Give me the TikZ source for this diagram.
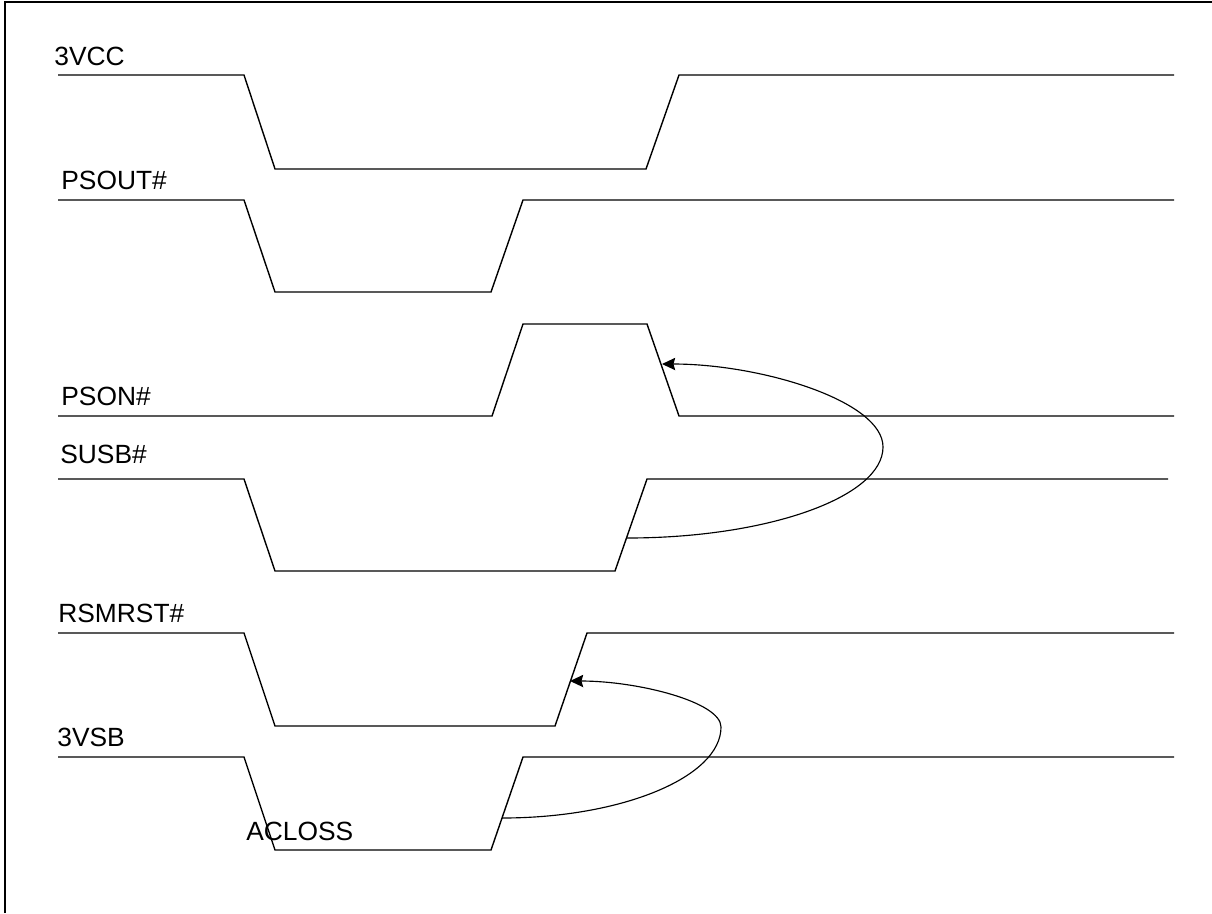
\documentclass[tikz,border=0pt]{standalone}
\usepackage{fontspec}
\setmainfont{Liberation Sans}
\usetikzlibrary{arrows.meta}
\begin{document}
\begin{tikzpicture}[x=0.02cm,y=-0.02cm,
  sig/.style={line width=0.8pt,line join=miter},
  lbl/.style={anchor=base west,inner sep=0pt,font=\fontsize{15}{17}\selectfont},
  link/.style={line width=0.65pt,-{Stealth[length=7.5pt,width=7pt,inset=1pt]}},
  frame/.style={line width=1.2pt}]
\useasboundingbox (0,0) rectangle (1212,913);
\draw[frame] (5,913) -- (5,2) -- (1212,2);
% labels
\node[lbl] (l3vcc)  at (54,65)  {3VCC};
\node[lbl] (lpsout) at (61,189) {PSOUT\#};
\node[lbl] (lpson)  at (61,405) {PSON\#};
\node[lbl] (lsusb)  at (60,463) {SUSB\#};
\node[lbl] (lrsm)   at (58,622) {RSMRST\#};
\node[lbl] (l3vsb)  at (57,746) {3VSB};
\node[lbl] (lacl)   at (246,840) {ACLOSS};
% waveforms
\draw[sig] (58,75) -- (244,75) -- (275,169) -- (646,169) -- (679,75) -- (1174,75);
\draw[sig] (58,200) -- (244,200) -- (275,292) -- (491,292) -- (523,200) -- (1174,200);
\draw[sig] (58,416) -- (492,416) -- (523,324) -- (647,324) -- (679,416) -- (1174,416);
\draw[sig] (58,479) -- (244,479) -- (275,571) -- (615,571) -- (647,479) -- (1168,479);
\draw[sig] (58,633) -- (244,633) -- (275,726) -- (555,726) -- (587,633) -- (1174,633);
\draw[sig] (58,757) -- (244,757) -- (275,850) -- (491,850) -- (523,757) -- (1174,757);
% connector anchors on the edges
\coordinate (c1s) at (627,538);
\coordinate (c1a) at (883,447);
\coordinate (c1e) at (662,364);
\coordinate (c2s) at (502,818);
\coordinate (c2a) at (721,727);
\coordinate (c2e) at (570,681);
% connectors
\draw[link] (c1s) .. controls (768,538) and (883,497) .. (c1a)
                  .. controls (883,401) and (761,364) .. (c1e);
\draw[link] (c2s) .. controls (622,818) and (721,777) .. (c2a)
                  .. controls (721,702) and (638,681) .. (c2e);
\end{tikzpicture}
\end{document}
